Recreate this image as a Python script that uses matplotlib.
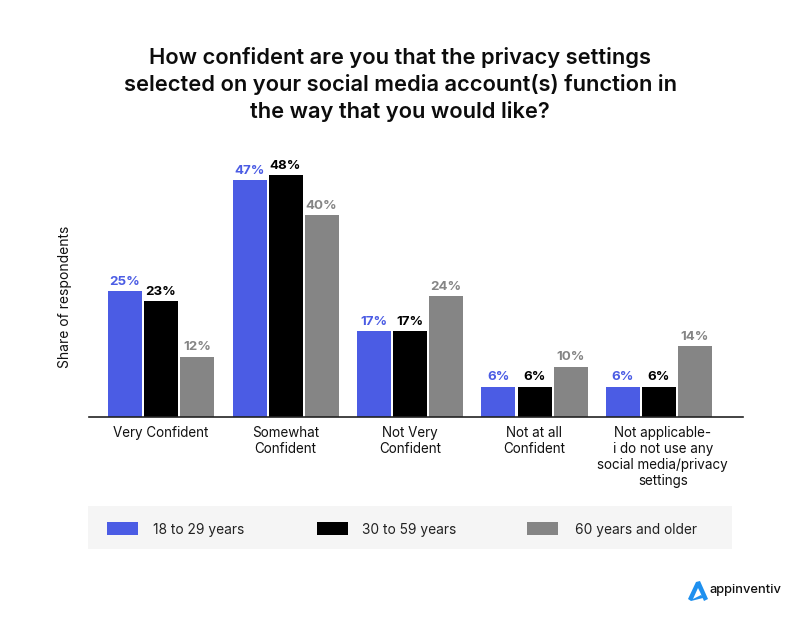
import matplotlib
matplotlib.use("Agg")
import matplotlib.pyplot as plt
from matplotlib.patches import Rectangle, Polygon

plt.rcParams['font.family'] = ['Inter', 'DejaVu Sans']

categories = ["Very Confident", "Somewhat\nConfident", "Not Very\nConfident",
              "Not at all\nConfident",
              "Not applicable-\ni do not use any\nsocial media/privacy\nsettings"]
young = [25, 47, 17, 6, 6]
middle = [23, 48, 17, 6, 6]
older = [12, 40, 24, 10, 14]
series_names = ["18 to 29 years", "30 to 59 years", "60 years and older"]
colors = ["#4b5ce4", "#000000", "#858585"]
title = ("How confident are you that the privacy settings\n"
         "selected on your social media account(s) function in\n"
         "the way that you would like?")

W, H = 800, 629
fig = plt.figure(figsize=(W / 100, H / 100), dpi=100)

# axes placed in pixels, y runs from baseline 417 up to 160
ax = fig.add_axes([89 / W, 1 - 417 / H, 654 / W, 257 / H])
spacing = 124.5
ax.set_xlim((89 - 161) / spacing, (743 - 161) / spacing)
ax.set_ylim(0, 257 / 5.04)

bw = 34 / spacing
pitch = 36 / spacing
for i, vals in enumerate([young, middle, older]):
    xs = [c + (i - 1) * pitch for c in range(len(categories))]
    ax.bar(xs, vals, width=bw, color=colors[i])
    for x, v in zip(xs, vals):
        ax.annotate(f"{v}%", (x, v), xytext=(0, 2.5), textcoords="offset points",
                    ha="center", va="bottom", fontsize=9.6, fontweight="bold",
                    color=colors[i])

for s in ["top", "left", "right"]:
    ax.spines[s].set_visible(False)
ax.spines["bottom"].set_color("#222222")
ax.spines["bottom"].set_linewidth(1.2)
ax.set_yticks([])
# last label sits a little right of its bars in the original
ax.set_xticks([0, 1, 2, 3, 4.03])
ax.set_xticklabels(categories, fontsize=9.7, color="#111111", linespacing=1.17)
ax.tick_params(axis="x", length=0, pad=6.5)

fig.text(65 / W, 1 - 296.5 / H, "Share of respondents", rotation=90, ha="center",
         va="center", fontsize=10, color="#111111")
fig.text(400 / W, 1 - 84.5 / H, title, ha="center", va="center", fontsize=15.75,
         fontweight="semibold", color="#0c0c0c", linespacing=1.37)

# legend panel
fig.add_artist(Rectangle((88 / W, 1 - 549 / H), 644 / W, 43 / H,
                         transform=fig.transFigure, color="#f5f5f5", lw=0))
swatch_x = [107, 317, 527]
label_x = [153, 362, 575]
for sx, lx, name, col in zip(swatch_x, label_x, series_names, colors):
    fig.add_artist(Rectangle((sx / W, 1 - 535 / H), 31 / W, 13 / H,
                             transform=fig.transFigure, color=col, lw=0))
    fig.text(lx / W, 1 - 530 / H, name, ha="left", va="center", fontsize=9.9,
             color="#222222")

# logo
logo = [(688, 599), (696, 582), (700, 581), (708, 599), (704, 601),
        (700, 592), (698, 588), (693, 599), (701, 595), (703, 598), (691, 601)]
fig.add_artist(Polygon([(x / W, 1 - y / H) for x, y in logo],
                       transform=fig.transFigure, color="#1e90ef", lw=0))
fig.text(709 / W, 1 - 590 / H, "appinventiv", ha="left", va="center",
         fontsize=9.3, fontweight="medium", color="#111111")

fig.savefig("out.png", dpi=100)
